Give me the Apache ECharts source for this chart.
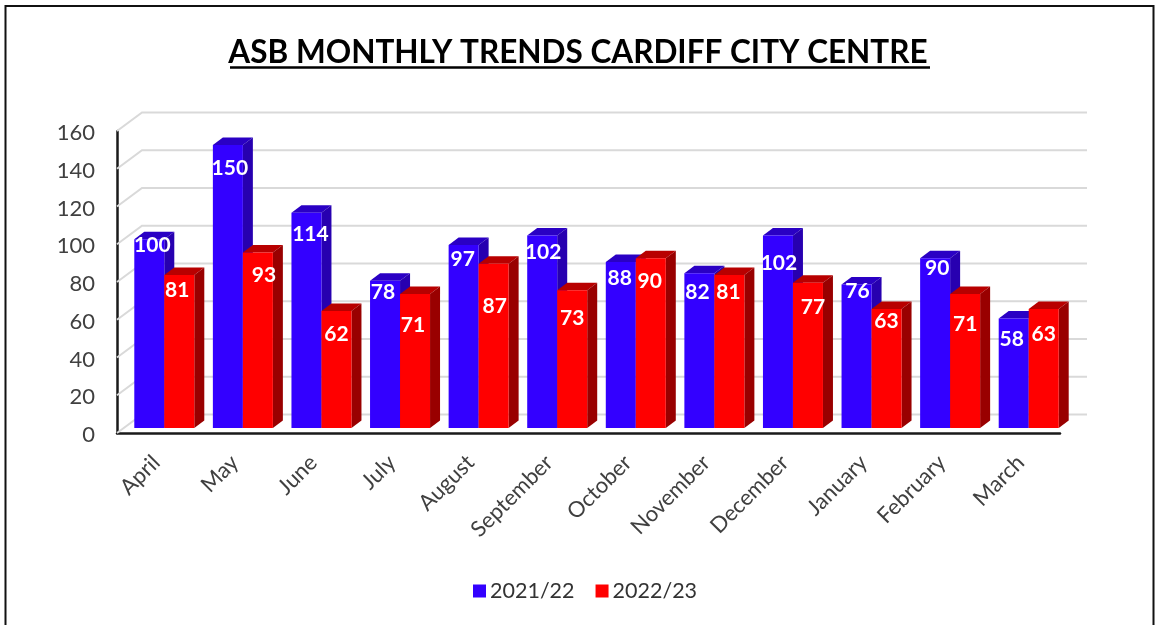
<!DOCTYPE html>
<html>
<head>
<meta charset="utf-8">
<style>
  html, body { margin: 0; padding: 0; background: #fff; }
  #chart { width: 1156px; height: 625px; }
</style>
<script src="https://cdn.jsdelivr.net/npm/echarts@6/dist/echarts.min.js"></script>
</head>
<body>
<div id="chart"></div>
<script>
var months = ['April','May','June','July','August','September','October','November','December','January','February','March'];
var values2122 = [100,150,114,78,97,102,88,82,102,76,90,58];
var values2223 = [81,93,62,71,87,73,90,81,77,63,71,63];
var yTicks = [0,20,40,60,80,100,120,140,160];

// hand placed data labels, pixels from the centre top of each bar
var labelDx2122 = [3,2,4,-2,-1,1,-1,-2,1,1,2,-2];
var labelDy2122 = [6,23,21,11,14,17,16,19,28,7,10,21];
var labelDx2223 = [-2,6,0,-2,1,0,-1,-1,5,0,0,0];
var labelDy2223 = [15,23,23,31,42,28,23,17,25,12,30,25];

var myChart = echarts.init(document.getElementById('chart'));

var FONT = 'Lato';
var BAR_W = 30;
// fake 3d: bar depth, and how far the bars and the back wall sit from the axes
var DEPTH_X = 10, DEPTH_Y = 7.5;
var SHIFT_X = 8, SHIFT_Y = 5;
var WALL_X = 25, WALL_Y = 18.5;

function barRenderer(side, front, dark, top, dxs, dys) {
    return function (params, api) {
        var i = api.value(0);
        var p = api.coord([i, api.value(1)]);
        var base = api.coord([i, 0]);
        var x = p[0] + SHIFT_X + (side < 0 ? -BAR_W : 0);
        var y = p[1] - SHIFT_Y;
        var b = base[1] - SHIFT_Y;
        var r = x + BAR_W;
        return {
            type: 'group',
            children: [
                { type: 'polygon', shape: { points: [[x, y], [x + DEPTH_X, y - DEPTH_Y], [r + DEPTH_X, y - DEPTH_Y], [r, y]] }, style: { fill: top } },
                { type: 'polygon', shape: { points: [[r, y], [r + DEPTH_X, y - DEPTH_Y], [r + DEPTH_X, b - DEPTH_Y], [r, b]] }, style: { fill: dark } },
                { type: 'rect', shape: { x: x, y: y, width: BAR_W, height: b - y }, style: { fill: front } },
                { type: 'text', z2: 100, style: {
                    text: String(api.value(1)),
                    x: x + BAR_W / 2 + dxs[i],
                    y: y + dys[i],
                    fill: '#fff',
                    font: 'bold 21px ' + FONT,
                    textAlign: 'center',
                    textVerticalAlign: 'middle'
                } }
            ]
        };
    };
}

function wallRenderer(params, api) {
    var y = api.coord([0, api.value(1)])[1];
    var cs = params.coordSys;
    var style = { stroke: '#d9d9d9', lineWidth: 2, fill: null };
    return {
        type: 'polyline',
        shape: { points: [[cs.x, y], [cs.x + WALL_X, y - WALL_Y], [cs.x + cs.width + 27, y - WALL_Y]] },
        style: style
    };
}

option = {
    animation: false,
    backgroundColor: '#fff',
    title: {
        text: 'ASB MONTHLY TRENDS CARDIFF CITY CENTRE',
        left: 'center',
        top: 32,
        textStyle: { fontFamily: FONT, fontWeight: 'bold', fontSize: 31.5, color: '#000' }
    },
    legend: {
        top: 575,
        left: 468,
        itemWidth: 13,
        itemHeight: 13,
        itemGap: 21,
        icon: 'rect',
        textStyle: { fontFamily: FONT, fontSize: 21.5, color: '#333', padding: [0, 0, 0, -1] },
        data: ['2021/22', '2022/23']
    },
    grid: { left: 117, right: 96, top: 131, bottom: 192 },
    xAxis: {
        type: 'category',
        data: months,
        axisTick: { show: false },
        axisLine: { lineStyle: { color: '#1a1a1a', width: 2.5 } },
        axisLabel: { interval: 0, rotate: 45, margin: 26, fontFamily: FONT, fontSize: 22, color: '#404040' }
    },
    yAxis: {
        type: 'value',
        min: 0,
        max: 160,
        interval: 20,
        splitLine: { show: false },
        axisTick: { show: false },
        axisLine: { show: true, lineStyle: { color: '#1a1a1a', width: 2.5 } },
        axisLabel: { margin: 22, verticalAlign: 'top', padding: [-9, 0, 0, 0], fontFamily: FONT, fontSize: 22, color: '#404040' }
    },
    graphic: [
        { type: 'rect', silent: true, z: -10, shape: { x: 5.5, y: 6, width: 1148, height: 640 }, style: { fill: null, stroke: '#111', lineWidth: 2 } },
        { type: 'line', silent: true, shape: { x1: 230, y1: 67.5, x2: 930, y2: 67.5 }, style: { stroke: '#000', lineWidth: 2.5 } }
    ],
    series: [
        {
            type: 'custom',
            name: 'wall',
            silent: true,
            z: 1,
            clip: false,
            renderItem: wallRenderer,
            encode: { x: 0, y: 1 },
            data: yTicks.map(function (t) { return [0, t]; })
        },
        {
            type: 'custom',
            name: '2021/22',
            z: 2,
            clip: false,
            itemStyle: { color: '#3300ff' },
            renderItem: barRenderer(-1, '#3300ff', '#2700b0', '#2a00c4', labelDx2122, labelDy2122),
            encode: { x: 0, y: 1 },
            data: values2122.map(function (v, i) { return [i, v]; })
        },
        {
            type: 'custom',
            name: '2022/23',
            z: 3,
            clip: false,
            itemStyle: { color: '#ff0000' },
            renderItem: barRenderer(1, '#ff0000', '#990000', '#b80000', labelDx2223, labelDy2223),
            encode: { x: 0, y: 1 },
            data: values2223.map(function (v, i) { return [i, v]; })
        }
    ]
};

myChart.setOption(option);
</script>
</body>
</html>
